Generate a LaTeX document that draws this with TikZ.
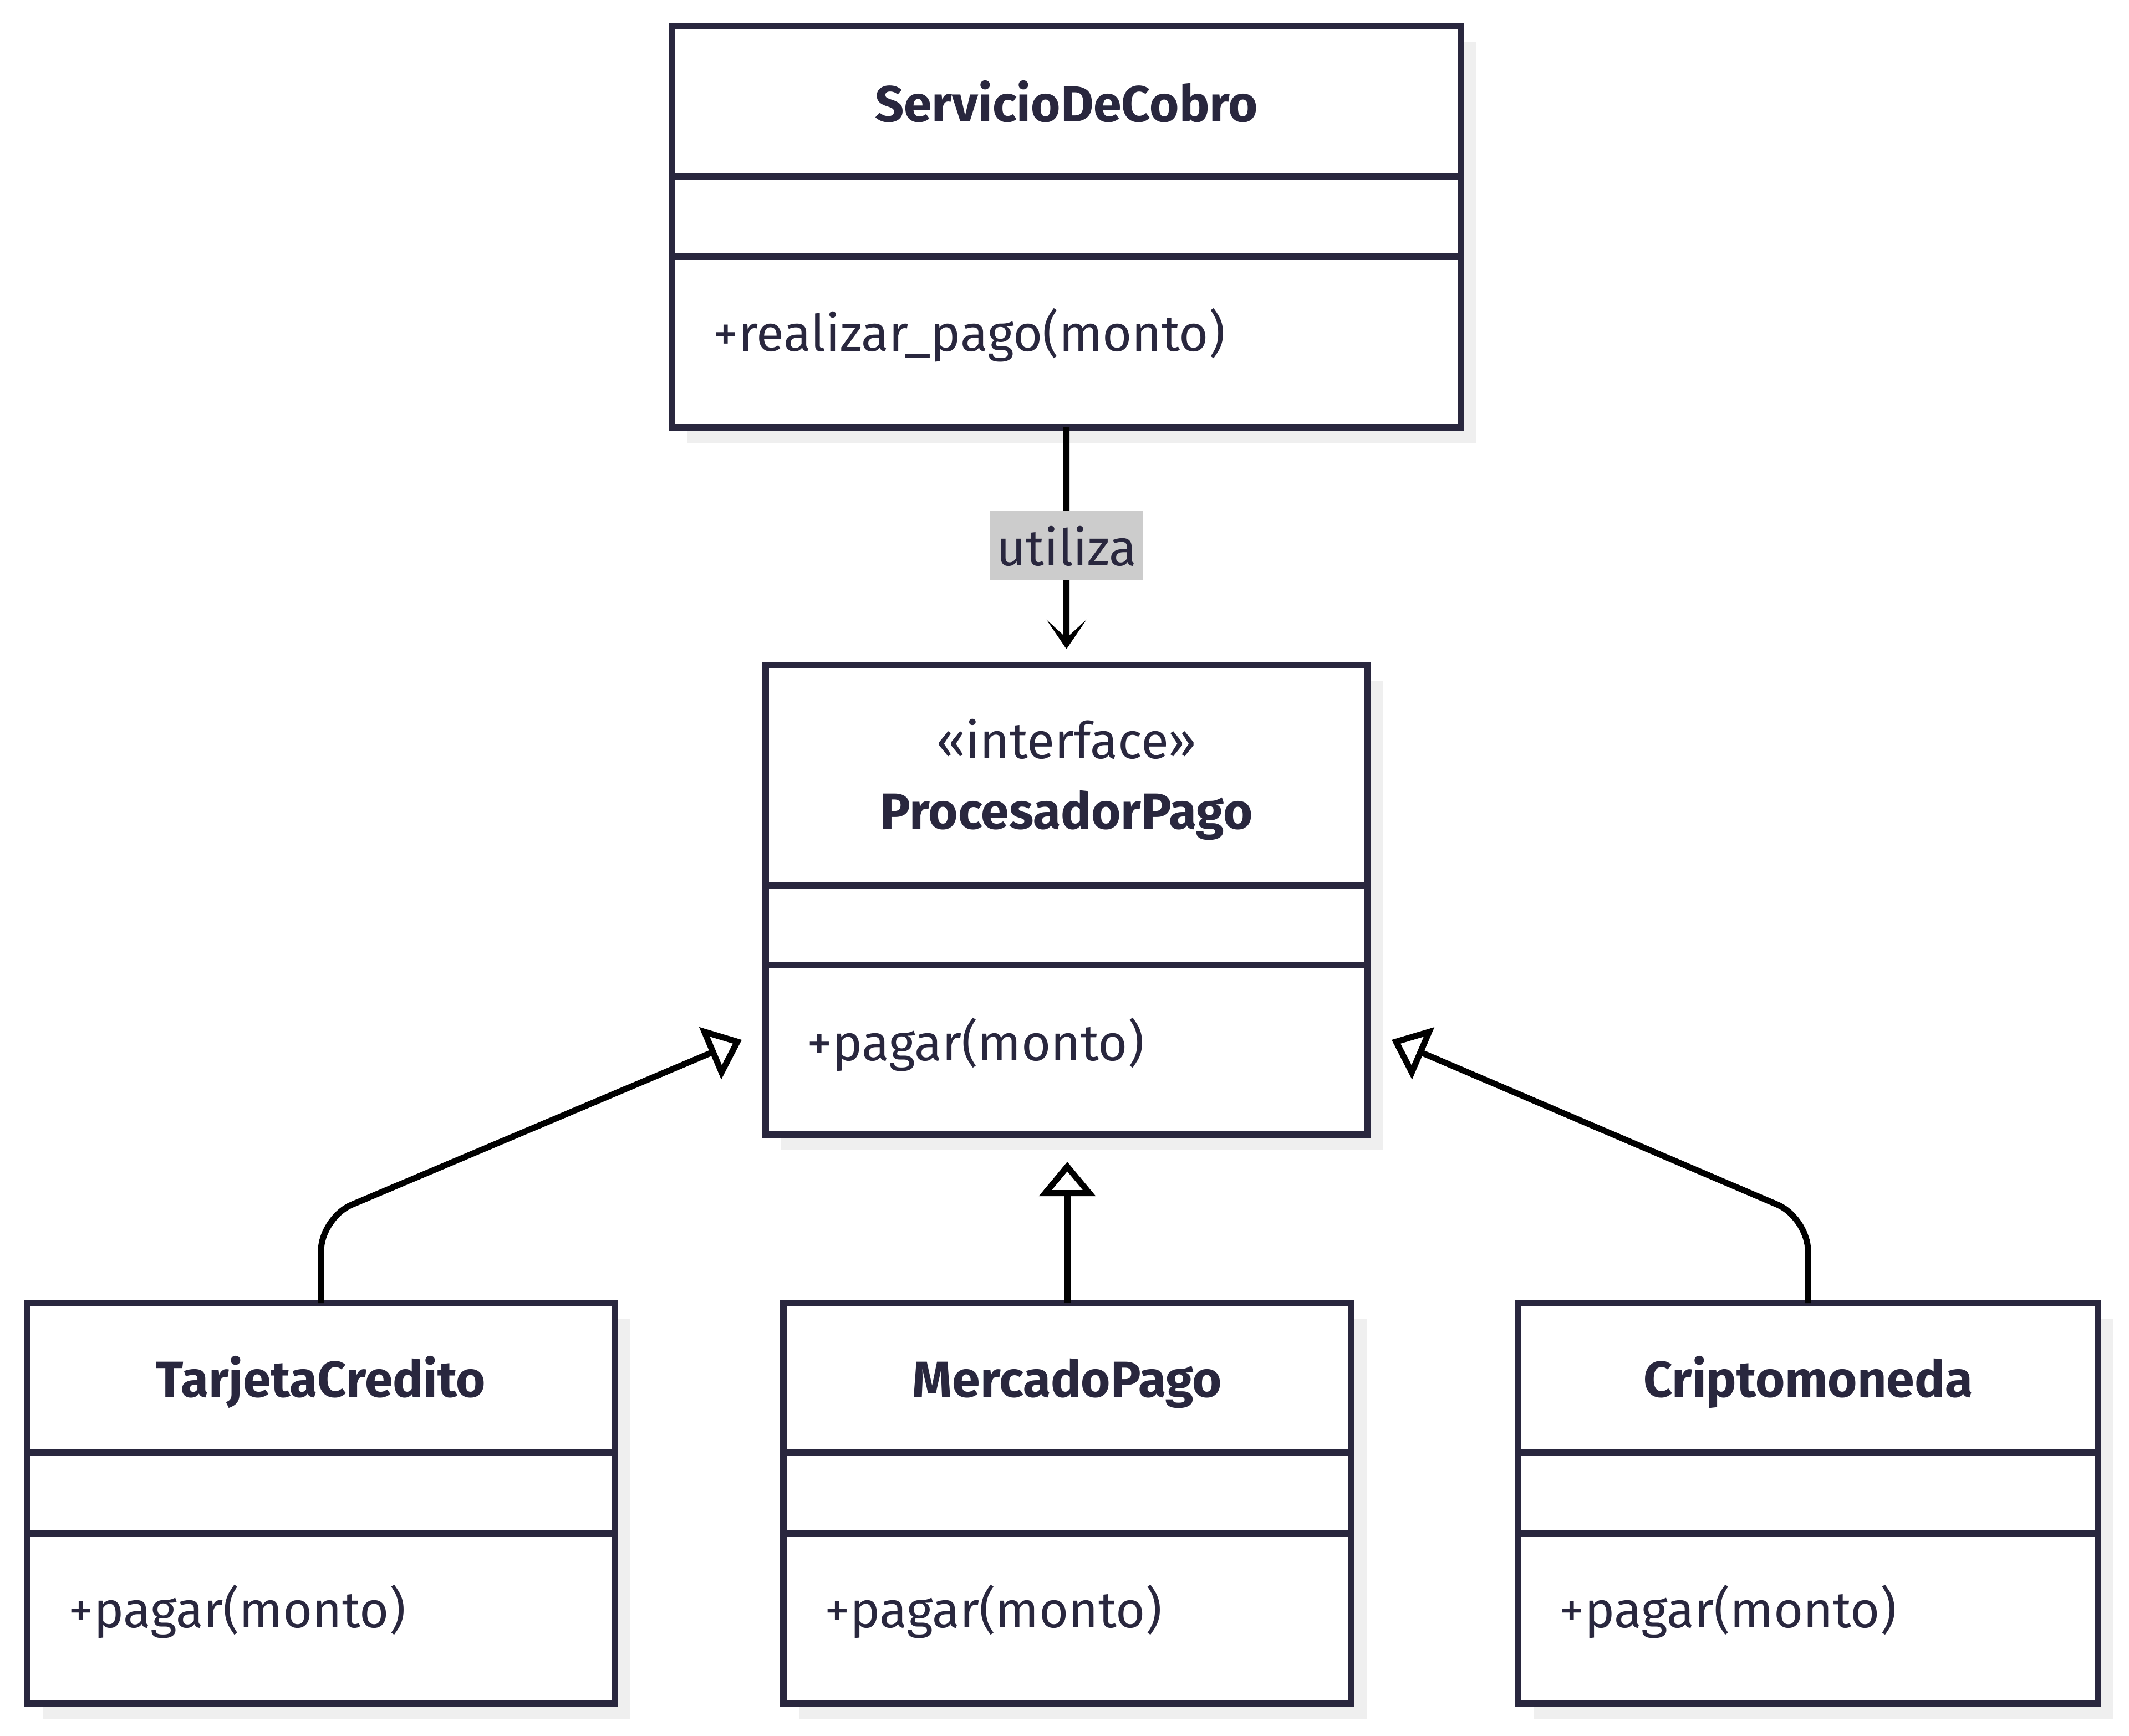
\documentclass[tikz,border=0pt]{standalone}
\usepackage{fontspec}
\setmainfont{Fira Sans}
\usetikzlibrary{arrows.meta,shadows}
\definecolor{umlink}{RGB}{41,39,62}
\definecolor{umlshadow}{RGB}{239,239,239}
\definecolor{labelgray}{RGB}{204,204,204}
\begin{document}
\begin{tikzpicture}[
    classbox/.style={draw=umlink, line width=0.12cm, fill=white, inner sep=0pt, outer sep=0pt, anchor=north west,
        drop shadow={shadow xshift=0.28cm, shadow yshift=-0.28cm, fill=umlshadow, opacity=1}},
    rule/.style={draw=umlink, line width=0.12cm},
    classname/.style={font=\bfseries, text=umlink, inner sep=0pt, anchor=base},
    stereo/.style={text=umlink, inner sep=0pt, anchor=base},
    member/.style={text=umlink, inner sep=0pt, anchor=base west},
    link/.style={draw=black, line width=0.11cm},
    uses/.style={link, -{Stealth[length=0.53cm, width=0.72cm, inset=0.33cm]}},
    realizes/.style={link, rounded corners=0.6cm, -{Triangle[open, length=0.62cm, width=1.000000cm]}},
    edgelabel/.style={fill=labelgray, text=umlink, inner sep=0pt, minimum width=2.76cm, minimum height=1.25cm}
]
                        \useasboundingbox (0.000000,0.000000) rectangle (38.400000,31.310000);
                        {\fontsize{26}{31}\selectfont
                        
                        % Drawing class ServicioDeCobro
                        \node [classbox, minimum width=14.230000cm, minimum height=7.240000cm] (servicio) at (12.120000,30.840000) {};%
                        \draw [rule] ([yshift=-2.710000cm]servicio.north west) -- ([yshift=-2.710000cm]servicio.north east);%
                        \draw [rule] ([yshift=-4.160000cm]servicio.north west) -- ([yshift=-4.160000cm]servicio.north east);%
                        \node [classname] (servicio-name) at ([yshift=-1.730000cm]servicio.north) {ServicioDeCobro};%
                        \node [member] (servicio-op) at ([xshift=0.740000cm, yshift=-5.870000cm]servicio.north west) {+realizar\_pago(monto)};%
                        
                        % Drawing interface ProcesadorPago
                        \node [classbox, minimum width=10.850000cm, minimum height=8.470000cm] (procesador) at (13.810000,19.310000) {};%
                        \draw [rule] ([yshift=-3.970000cm]procesador.north west) -- ([yshift=-3.970000cm]procesador.north east);%
                        \draw [rule] ([yshift=-5.410000cm]procesador.north west) -- ([yshift=-5.410000cm]procesador.north east);%
                        \node [stereo] (procesador-stereo) at ([yshift=-1.690000cm]procesador.north) {«interface»};%
                        \node [classname] (procesador-name) at ([yshift=-2.960000cm]procesador.north) {ProcesadorPago};%
                        \node [member] (procesador-op) at ([xshift=0.740000cm, yshift=-7.130000cm]procesador.north west) {+pagar(monto)};%
                        
                        % Drawing class TarjetaCredito
                        \node [classbox, minimum width=10.600000cm, minimum height=7.220000cm] (tarjeta) at (0.490000,7.800000) {};%
                        \draw [rule] ([yshift=-2.690000cm]tarjeta.north west) -- ([yshift=-2.690000cm]tarjeta.north east);%
                        \draw [rule] ([yshift=-4.160000cm]tarjeta.north west) -- ([yshift=-4.160000cm]tarjeta.north east);%
                        \node [classname] (tarjeta-name) at ([yshift=-1.690000cm]tarjeta.north) {TarjetaCredito};%
                        \node [member] (tarjeta-op) at ([xshift=0.740000cm, yshift=-5.850000cm]tarjeta.north west) {+pagar(monto)};%
                        
                        % Drawing class MercadoPago
                        \node [classbox, minimum width=10.240000cm, minimum height=7.220000cm] (mercado) at (14.130000,7.800000) {};%
                        \draw [rule] ([yshift=-2.690000cm]mercado.north west) -- ([yshift=-2.690000cm]mercado.north east);%
                        \draw [rule] ([yshift=-4.160000cm]mercado.north west) -- ([yshift=-4.160000cm]mercado.north east);%
                        \node [classname] (mercado-name) at ([yshift=-1.690000cm]mercado.north) {MercadoPago};%
                        \node [member] (mercado-op) at ([xshift=0.740000cm, yshift=-5.850000cm]mercado.north west) {+pagar(monto)};%
                        
                        % Drawing class Criptomoneda
                        \node [classbox, minimum width=10.460000cm, minimum height=7.220000cm] (cripto) at (27.380000,7.800000) {};%
                        \draw [rule] ([yshift=-2.690000cm]cripto.north west) -- ([yshift=-2.690000cm]cripto.north east);%
                        \draw [rule] ([yshift=-4.160000cm]cripto.north west) -- ([yshift=-4.160000cm]cripto.north east);%
                        \node [classname] (cripto-name) at ([yshift=-1.690000cm]cripto.north) {Criptomoneda};%
                        \node [member] (cripto-op) at ([xshift=0.740000cm, yshift=-5.850000cm]cripto.north west) {+pagar(monto)};%
                        
                        % Drawing dependency ServicioDeCobro -> ProcesadorPago
                        \draw [uses] (servicio.south) -- node [edgelabel, pos=0.535] (utiliza) {utiliza} ([yshift=0.290000cm]procesador.north);%
                        
                        % Drawing realization TarjetaCredito -> ProcesadorPago
                        \coordinate (tarjeta-bend) at (5.790000,9.340000);%
                        \coordinate (tarjeta-tip) at (13.380000,12.550000);%
                        \draw [realizes] (tarjeta.north) -- (tarjeta-bend) -- (tarjeta-tip);%
                        
                        % Drawing realization MercadoPago -> ProcesadorPago
                        \draw [realizes] (mercado.north) -- ++(0.000000,2.550000);%
                        
                        % Drawing realization Criptomoneda -> ProcesadorPago
                        \coordinate (cripto-bend) at (32.610000,9.340000);%
                        \coordinate (cripto-tip) at (25.100000,12.550000);%
                        \draw [realizes] (cripto.north) -- (cripto-bend) -- (cripto-tip);%
                        }
\end{tikzpicture}
\end{document}
